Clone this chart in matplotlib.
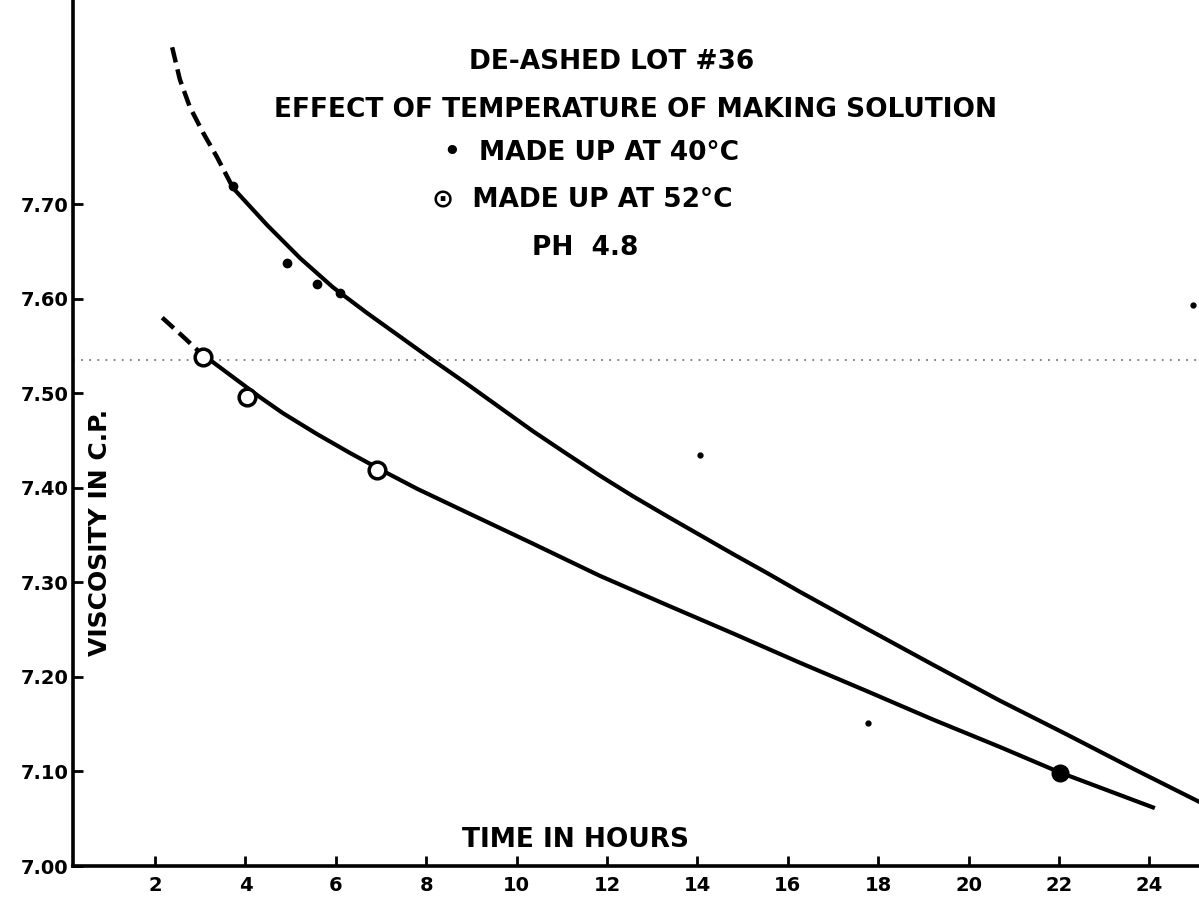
import matplotlib.pyplot as plt

# --- values ---
# 40 C curve: dashed (extrapolated) part, then the solid fitted curve
hot40_dash_x = [2.38, 2.55, 2.77, 3.06, 3.37, 3.73]
hot40_dash_y = [7.866, 7.832, 7.803, 7.776, 7.750, 7.717]
hot40_x = [3.73, 4.48, 5.21, 5.94, 6.69, 7.42, 8.15, 8.90, 9.63, 10.36, 11.11,
           11.84, 12.58, 13.33, 14.06, 14.79, 15.54, 16.27, 17.75, 19.21,
           20.69, 22.18, 23.64, 25.10]
hot40_y = [7.717, 7.678, 7.643, 7.612, 7.585, 7.560, 7.535, 7.510, 7.485, 7.460,
           7.436, 7.413, 7.391, 7.370, 7.350, 7.330, 7.310, 7.290, 7.251, 7.213,
           7.175, 7.139, 7.103, 7.068]
hot40_pts_x = [3.73, 4.92, 5.58, 6.09]
hot40_pts_y = [7.719, 7.638, 7.616, 7.606]

# 52 C curve
hot52_dash_x = [2.16, 2.62, 3.00]
hot52_dash_y = [7.580, 7.560, 7.543]
hot52_x = [3.00, 3.73, 4.32, 4.83, 5.58, 6.31, 7.04, 7.80, 8.90, 10.36, 11.84,
           13.33, 14.79, 16.27, 17.75, 19.21, 20.69, 22.02, 24.08]
hot52_y = [7.543, 7.517, 7.496, 7.479, 7.457, 7.437, 7.418, 7.399, 7.374, 7.341,
           7.307, 7.276, 7.246, 7.215, 7.185, 7.155, 7.126, 7.099, 7.062]
hot52_pts_x = [3.06, 4.04, 6.91]
hot52_pts_y = [7.538, 7.496, 7.419]
hot52_solid_x = [22.02]
hot52_solid_y = [7.098]

# stray specks on the scan and the faint dotted scan line
speck_x = [24.96, 14.06, 17.77]
speck_y = [7.593, 7.435, 7.151]
scan_line_y = 7.535

x_ticks = [2, 4, 6, 8, 10, 12, 14, 16, 18, 20, 22, 24]
y_ticks = [7.00, 7.10, 7.20, 7.30, 7.40, 7.50, 7.60, 7.70]

W, H = 1199, 902
fig = plt.figure(figsize=(W / 100, H / 100), dpi=100)
ax = fig.add_axes([73 / W, 36 / H, 1 - 73 / W, 1 - 36 / H])

ax.axhline(scan_line_y, color='#777777', lw=1.3, linestyle=(0, (1, 3.5)), zorder=1)

ax.plot(hot40_dash_x, hot40_dash_y, color='black', lw=3.2, linestyle=(0, (3.5, 1.6)))
ax.plot(hot40_x, hot40_y, color='black', lw=3.0)
ax.plot(hot52_dash_x, hot52_dash_y, color='black', lw=3.2, linestyle=(0, (3.5, 1.6)))
ax.plot(hot52_x, hot52_y, color='black', lw=3.0)

ax.plot(hot40_pts_x, hot40_pts_y, 'o', color='black', ms=6)
ax.plot(hot52_pts_x, hot52_pts_y, 'o', mfc='white', mec='black', mew=2.5, ms=12)
ax.plot(hot52_solid_x, hot52_solid_y, 'o', color='black', ms=12)
ax.plot(speck_x, speck_y, 'o', color='black', ms=3.5)

ax.set_xlim(0.186, 25.1)
ax.set_ylim(7.0, 7.916)
ax.set_xticks(x_ticks)
ax.set_yticks(y_ticks)
ax.set_xticklabels([str(t) for t in x_ticks], fontsize=14, fontweight='bold')
ax.set_yticklabels(['%.2f' % t for t in y_ticks], fontsize=14, fontweight='bold')
ax.tick_params(direction='in', length=7, width=2)
ax.tick_params(axis='x', pad=7)
ax.tick_params(axis='y', pad=3)

for side in ['top', 'right']:
    ax.spines[side].set_visible(False)
for side in ['left', 'bottom']:
    ax.spines[side].set_linewidth(2.6)


def put(px, py, s, **kw):
    # place hand-lettered text by its pixel centre on the scan
    fig.text(px / W, 1 - py / H, s, ha='center', va='center', fontweight='bold',
             family='DejaVu Sans', **kw)


put(612, 62, 'DE-ASHED LOT #36', fontsize=19)
put(635, 110, 'EFFECT OF TEMPERATURE OF MAKING SOLUTION', fontsize=19)
put(592, 153, '\u2022  MADE UP AT 40\u00b0C', fontsize=19)
put(582, 199, '\u2299  MADE UP AT 52\u00b0C', fontsize=19)
put(585, 248, 'PH  4.8', fontsize=19)
put(575, 840, 'TIME IN HOURS', fontsize=19)
put(100, 532, 'VISCOSITY IN C.P.', fontsize=18, rotation=90)

fig.savefig('out.png', dpi=100)
